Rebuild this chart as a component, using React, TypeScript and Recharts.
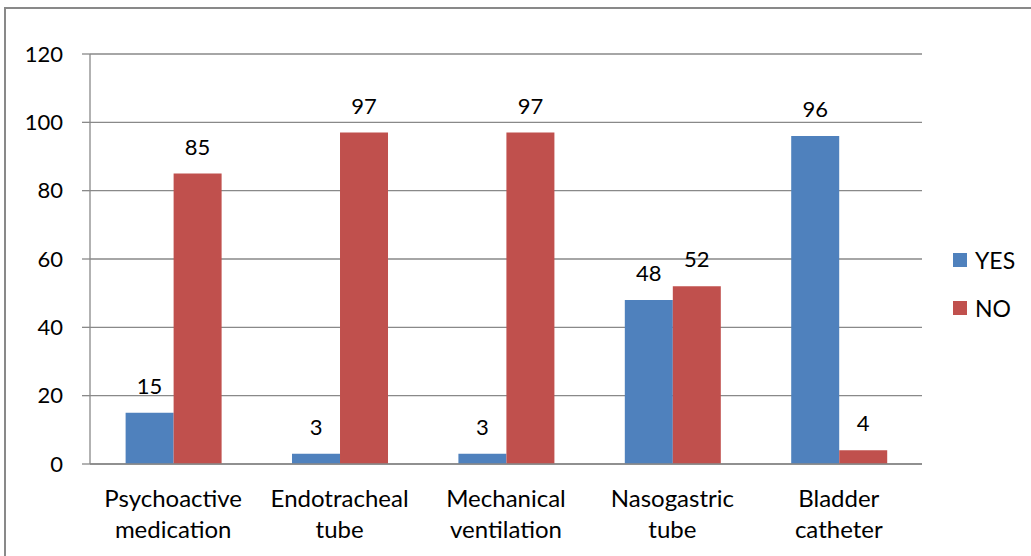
import { BarChart, Bar, XAxis, YAxis, CartesianGrid, LabelList } from "recharts";

const categories = [
  "Psychoactive\nmedication",
  "Endotracheal\ntube",
  "Mechanical\nventilation",
  "Nasogastric\ntube",
  "Bladder\ncatheter",
];
const yesValues = [15, 3, 3, 48, 96];
const noValues = [85, 97, 97, 52, 4];
const yTicks = [0, 20, 40, 60, 80, 100, 120];
const edgeTicks = [0, 1, 2, 3, 4, 5];

const FONT = "Lato, 'Noto Sans', sans-serif";
const GRID = "#898989";
const BLUE = "#4F81BD";
const RED = "#C0504D";

const series = [
  { key: "yes", name: "YES", color: BLUE },
  { key: "no", name: "NO", color: RED },
];

const data = categories.map((name, i) => ({ name, yes: yesValues[i], no: noValues[i] }));

// two-line category label under each group
const CategoryTick = ({ x, y, payload }: any) => {
  const lines = String(payload.value).split("\n");
  return (
    <text x={x} y={y} textAnchor="middle" fill="#000" fontSize={24} fontFamily={FONT}>
      {lines.map((line, i) => (
        <tspan key={i} x={x} dy={i === 0 ? 43 : 31}>
          {line}
        </tspan>
      ))}
    </text>
  );
};

export default function App() {
  return (
    <div style={{ position: "absolute", left: 0, top: 0, width: 1031, height: 556, background: "#fff", overflow: "hidden" }}>
      <div
        style={{
          position: "absolute",
          left: 4,
          top: 7,
          width: 1040,
          height: 560,
          border: `2px solid ${GRID}`,
          boxSizing: "border-box",
        }}
      />
      <BarChart
        width={1031}
        height={556}
        data={data}
        margin={{ top: 54, right: 109, left: 0, bottom: 0 }}
        barCategoryGap="21.4%"
        barGap={0}
        style={{ position: "absolute", left: 0, top: 0 }}
      >
        <CartesianGrid vertical={false} stroke={GRID} strokeWidth={1.3} />
        <XAxis
          xAxisId="edge"
          type="number"
          domain={[0, 5]}
          ticks={edgeTicks}
          height={0}
          axisLine={false}
          tickSize={8}
          tickLine={{ stroke: GRID, strokeWidth: 1.3 }}
          tick={() => <g />}
        />
        <XAxis
          xAxisId="cat"
          dataKey="name"
          height={92}
          interval={0}
          axisLine={{ stroke: GRID, strokeWidth: 1.3 }}
          tickLine={false}
          tickSize={0}
          tickMargin={0}
          tick={<CategoryTick />}
        />
        <YAxis
          width={90}
          domain={[0, 120]}
          ticks={yTicks}
          axisLine={{ stroke: GRID, strokeWidth: 1.3 }}
          tickLine={{ stroke: GRID, strokeWidth: 1.3 }}
          tickSize={8}
          tickMargin={19}
          tick={{ fill: "#000", fontSize: 22, fontFamily: FONT }}
        />
        {series.map((s) => (
          <Bar key={s.key} xAxisId="cat" dataKey={s.key} name={s.name} fill={s.color} isAnimationActive={false}>
            <LabelList dataKey={s.key} position="top" offset={19} fill="#000" fontSize={22} fontFamily={FONT} />
          </Bar>
        ))}
      </BarChart>
      <div style={{ position: "absolute", left: 953, top: 236, fontFamily: FONT, fontSize: 23, color: "#000" }}>
        {series.map((s) => (
          <div key={s.key} style={{ display: "flex", alignItems: "center", height: 48 }}>
            <span style={{ width: 14, height: 14, background: s.color, display: "inline-block", marginRight: 8 }} />
            <span>{s.name}</span>
          </div>
        ))}
      </div>
    </div>
  );
}
